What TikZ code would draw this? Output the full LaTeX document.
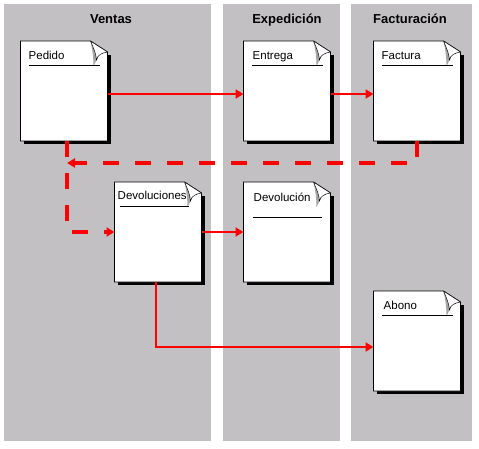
\documentclass[tikz,border=0pt]{standalone}
\usepackage{fontspec}
\setmainfont{Liberation Sans}
\usepackage{xcolor}
\usetikzlibrary{arrows.meta, positioning, calc}
\definecolor{lanegray}{RGB}{194,192,195}
\definecolor{flowred}{RGB}{255,0,0}
\definecolor{foldgray}{RGB}{165,165,165}
\tikzset{
  lane/.style={fill=lanegray, draw=none},
  lanehead/.style={font=\fontsize{13}{15}\selectfont\bfseries, inner sep=0pt, anchor=base},
  doc/.style={rectangle, draw=none, minimum width=87pt, minimum height=100pt,
    inner sep=0pt, outer sep=0pt},
  doctitle/.style={font=\fontsize{11.5}{13}\selectfont, anchor=base west, inner sep=0pt},
  flow/.style={-{Triangle[length=8pt,width=9pt]}, line width=2.8pt, flowred},
  flowd/.style={flow, line width=3.5pt, dash pattern=on 16pt off 16pt}
}
\begin{document}
\begin{tikzpicture}[x=1pt, y=-1pt, node distance=41pt and 42pt]
  \useasboundingbox (0,0) rectangle (479,449);
  % swimlanes
  \fill[lane] (4,4) rectangle (211,441);
  \fill[lane] (223,4) rectangle (340,441);
  \fill[lane] (351,4) rectangle (472,441);
  \node[lanehead] (ventas) at (111,24) {Ventas};
  \node[lanehead] (expedicion) at (287,24) {Expedición};
  \node[lanehead] (facturacion) at (410,24) {Facturación};
  % documents
  \node[doc] (pedido) at (64,91) {};
  \node[doc, right=136pt of pedido] (entrega) {};
  \node[doc, right=43pt of entrega] (factura) {};
  \node[doc, below=of entrega] (devolucion) {};
  \node[doc, left=of devolucion] (devoluciones) {};
  \node[doc, below=150pt of factura] (abono) {};
  \foreach \n/\t/\tx/\ty/\ua/\ub/\uy in {pedido/Pedido/8/19/8/79/24,
      entrega/Entrega/9/19/8/79/24, factura/Factura/8/19/8/79/24,
      devoluciones/Devoluciones/3/18/5/74/24, devolucion/Devolución/10/19/9/78/35,
      abono/Abono/10/18/8/79/24} {
    \begin{scope}[shift={(\n.north west)}]
      \fill[black] (3,14) rectangle (90,103);
      \filldraw[fill=white, draw=black, line width=0.8pt]
        (0,0) -- (70,0) -- (87,11) -- (87,100) -- (0,100) -- cycle;
      \node[doctitle] (\n-t) at (\tx,\ty) {\t};
      \fill[foldgray] (70,0) .. controls (72,9) and (73,17) .. (73,25)
        -- (76,19) .. controls (75,12) .. (70,0);
      \filldraw[fill=white, draw=black, line width=0.5pt]
        (70,0) -- (87,11) .. controls (81,12) and (77,14) .. (76,19)
        .. controls (75,12) .. (70,0);
      \draw[line width=0.8pt] (\ua,\uy) -- (\ub,\uy);
    \end{scope}
  }
  % flows
  \coordinate (join) at ($(pedido.south)+(3,22)$);
  \draw[flow] ([yshift=-3pt]pedido.east) -- ([yshift=-3pt]entrega.west);
  \draw[flow] ([yshift=-3pt]entrega.east) -- ([yshift=-3pt]factura.west);
  \draw[flowd] (factura.south) |- (join);
  \draw[flowd] ([xshift=3pt]pedido.south) |- (devoluciones.west);
  \draw[flow] (devoluciones.east) -- (devolucion.west);
  \draw[flow] ([xshift=-2pt]devoluciones.south) |- ([yshift=-6pt]abono.west);
\end{tikzpicture}
\end{document}
